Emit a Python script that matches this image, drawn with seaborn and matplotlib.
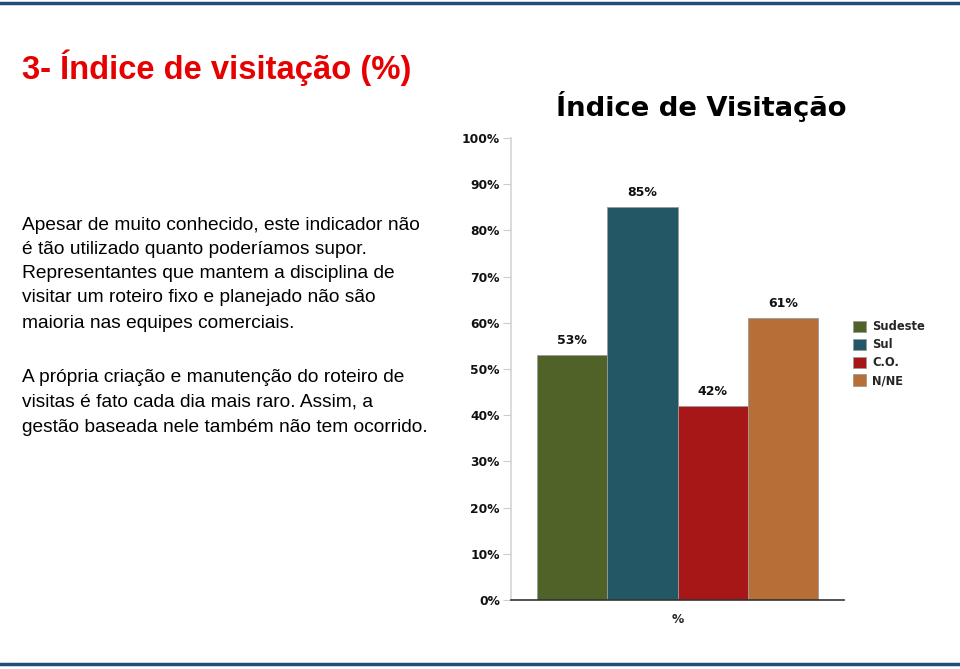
import matplotlib
matplotlib.use("Agg")
import matplotlib.pyplot as plt
import seaborn as sns
import pandas as pd

regions = ["Sudeste", "Sul", "C.O.", "N/NE"]
values = [53, 85, 42, 61]
group = ["%"] * 4
colors = ["#4f6228", "#245766", "#a81717", "#b86f37"]
yticks = [0, 10, 20, 30, 40, 50, 60, 70, 80, 90, 100]
ytick_labels = [f"{v}%" for v in yticks]

title = "3- Índice de visitação (%)"
chart_title = "Índice de Visitação"
para1 = ["Apesar de muito conhecido, este indicador não",
         "é tão utilizado quanto poderíamos supor.",
         "Representantes que mantem a disciplina de",
         "visitar um roteiro fixo e planejado não são",
         "maioria nas equipes comerciais."]
para2 = ["A própria criação e manutenção do roteiro de",
         "visitas é fato cada dia mais raro. Assim, a",
         "gestão baseada nele também não tem ocorrido."]

sns.set_theme(style="white")
plt.rcParams["font.family"] = ["DejaVu Sans"]

W, H = 960, 669
fig = plt.figure(figsize=(W / 100, H / 100), dpi=100)

df = pd.DataFrame({"grp": group, "Região": regions, "val": values})
ax = fig.add_axes([511 / W, 1 - 600 / H, (844 - 511) / W, (600 - 138) / H])
sns.barplot(data=df, x="grp", y="val", hue="Região", hue_order=regions,
            palette=colors, width=0.844, ax=ax, edgecolor="#9a9a9a",
            linewidth=0.6, saturation=1, legend=True)
ax.set_xlim(-0.5, 0.5)
ax.set_ylim(0, 100)
ax.set_yticks(yticks)
ax.set_yticklabels(ytick_labels, fontsize=8.8, fontweight="bold", color="#111111")
ax.tick_params(axis="y", length=6, width=0.8, color="#cccccc", left=True, pad=2)
ax.tick_params(axis="x", length=0)
ax.set_xticklabels([])
ax.set_xlabel("%", fontsize=8.8, fontweight="bold", labelpad=6)
ax.set_ylabel("")
for s in ["top", "right"]:
    ax.spines[s].set_visible(False)
ax.spines["left"].set_color("#d4d4d4")
ax.spines["left"].set_linewidth(1.2)
ax.spines["bottom"].set_color("#333333")
ax.spines["bottom"].set_linewidth(1.2)

for cont in ax.containers:
    ax.bar_label(cont, labels=[f"{v:.0f}%" for v in cont.datavalues],
                 padding=6, fontsize=9, fontweight="bold", color="#111111")

leg = ax.legend(loc="upper left", bbox_to_anchor=(1.013, 0.615), frameon=False,
                handlelength=1.14, handleheight=1.14, handletextpad=0.55,
                labelspacing=0.42, borderaxespad=0,
                prop={"weight": "bold", "size": 8.3, "family": "DejaVu Sans"})

fig.text(22 / W, 1 - 68 / H, title, color="#e60000", fontsize=23.6,
         family="Liberation Sans", fontweight="bold", va="center", ha="left")
fig.text(701.5 / W, 1 - 107 / H, chart_title, color="#000000", fontsize=19.7,
         family="DejaVu Sans", fontweight="bold", va="center", ha="center")

ys1 = [226, 250, 274, 298, 323]
for y, line in zip(ys1, para1):
    fig.text(22 / W, 1 - y / H, line, fontsize=13.75, family="Liberation Sans",
             va="center", ha="left", color="#000000")
ys2 = [377, 402, 427]
for y, line in zip(ys2, para2):
    fig.text(22 / W, 1 - y / H, line, fontsize=13.75, family="Liberation Sans",
             va="center", ha="left", color="#000000")

line_color = "#1f4e79"
fig.add_artist(plt.Line2D([0, 1], [1 - 2.5 / H, 1 - 2.5 / H], color=line_color, lw=2.5))
fig.add_artist(plt.Line2D([0, 1], [1 - 664 / H, 1 - 664 / H], color=line_color, lw=2.5))

fig.savefig("out.png", dpi=100)
